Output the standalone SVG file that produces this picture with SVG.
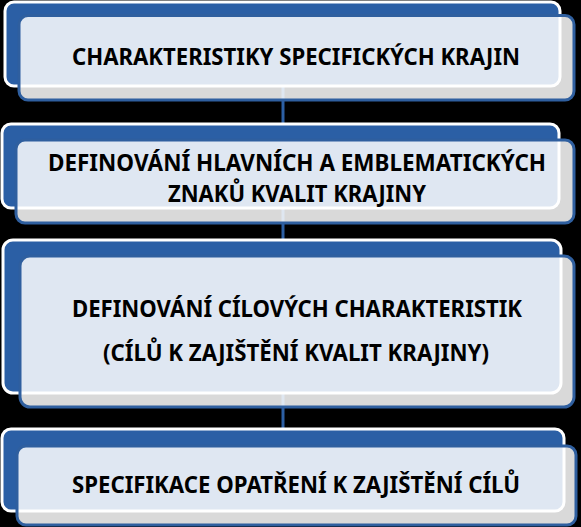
<svg xmlns="http://www.w3.org/2000/svg" width="581" height="527" viewBox="0 0 581 527">
<style>
.back{fill:#2b5fa5;stroke:#ffffff;stroke-width:3}
.front{fill:#ffffff;fill-opacity:0.85;stroke:#2f5f9f;stroke-width:3}
.t{font-family:"Noto Sans","Open Sans","Liberation Sans",sans-serif;font-weight:bold;font-size:23px;fill:#000000;text-anchor:middle}
.conn{stroke:#2c5fa3;stroke-width:3;fill:none}
</style>
<rect x="0" y="0" width="581" height="527" fill="#000000"/>
<g id="connectors">
<line class="conn" x1="283" y1="60" x2="283" y2="480"/>
</g>
<g id="node1">
<rect class="back" x="5" y="2" width="555" height="84" rx="9"/>
<rect class="front" x="19" y="15.5" width="555" height="84.5" rx="9"/>
<text class="t" x="296" y="65" textLength="448" lengthAdjust="spacingAndGlyphs">CHARAKTERISTIKY SPECIFICKÝCH KRAJIN</text>
</g>
<g id="node2">
<rect class="back" x="2" y="124" width="557" height="84" rx="9"/>
<rect class="front" x="16" y="140" width="558" height="83" rx="9"/>
<text class="t" x="297" y="171" textLength="498" lengthAdjust="spacingAndGlyphs">DEFINOVÁNÍ HLAVNÍCH A EMBLEMATICKÝCH</text>
<text class="t" x="297" y="202" textLength="258" lengthAdjust="spacingAndGlyphs">ZNAKŮ KVALIT KRAJINY</text>
</g>
<g id="node3">
<rect class="back" x="3" y="240" width="558" height="153" rx="10"/>
<rect class="front" x="20" y="256" width="554" height="151" rx="10"/>
<text class="t" x="297" y="317" textLength="450" lengthAdjust="spacingAndGlyphs">DEFINOVÁNÍ CÍLOVÝCH CHARAKTERISTIK</text>
<text class="t" x="296" y="361" textLength="386" lengthAdjust="spacingAndGlyphs">(CÍLŮ K ZAJIŠTĚNÍ KVALIT KRAJINY)</text>
</g>
<g id="node4">
<rect class="back" x="2" y="429" width="562" height="82" rx="9"/>
<rect class="front" x="17" y="446" width="559" height="79" rx="9"/>
<text class="t" x="296" y="493" textLength="448" lengthAdjust="spacingAndGlyphs">SPECIFIKACE OPATŘENÍ K ZAJIŠTĚNÍ CÍLŮ</text>
</g>
</svg>
